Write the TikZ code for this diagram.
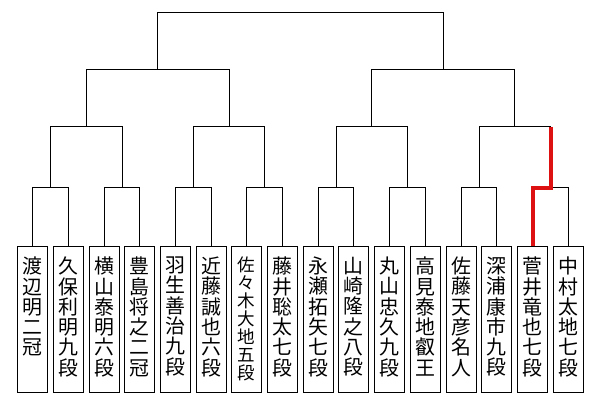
\documentclass[tikz,border=0pt]{standalone}
\usepackage{fontspec}
\newfontfamily\jpfont{Noto Sans CJK JP}
\usetikzlibrary{positioning,calc}
\definecolor{wincolor}{RGB}{221,17,17}
\makeatletter
\def\tatekaki@go#1{\ifx#1\relax\else#1\par\expandafter\tatekaki@go\fi}
\newcommand\tatekaki[2]{\parbox[t][124pt][t]{30pt}{\centering
  \fontsize{\fpeval{#2*0.98}pt}{#2pt}\selectfont\jpfont
  \expandafter\tatekaki@go#1\relax}}
\makeatother
\tikzset{
  player/.style={draw,line width=1pt,anchor=north,minimum width=30pt,
    minimum height=146pt,inner xsep=0pt,inner ysep=11pt},
  bracket/.style={line width=1pt},
  winner/.style={draw=wincolor,line width=4pt}
}

\begin{document}
\begin{tikzpicture}[x=1pt,y=-1pt]
\useasboundingbox (0,0) rectangle (600,400);
\def\ya{187.5}\def\yb{126.5}\def\yc{69.5}\def\yd{12.5}
\foreach \t/\h [count=\i] in {
  渡辺明二冠/20.3, 久保利明九段/20.3, 横山泰明六段/20.3, 豊島将之二冠/20.3,
  羽生善治九段/20.3, 近藤誠也六段/20.3, 佐々木大地五段/17.9, 藤井聡太七段/20.3,
  永瀬拓矢七段/20.3, 山崎隆之八段/20.3, 丸山忠久九段/20.3, 高見泰地叡王/20.3,
  佐藤天彦名人/20.3, 深浦康市九段/20.3, 菅井竜也七段/20.3, 中村太地七段/20.3
}{
  \pgfmathsetmacro\cx{floor(32.7+(\i-1)*35.7)+0.5}
  \node[player] (p\i) at (\cx,245.5) {\tatekaki{\t}{\h}};
}
% 1回戦
\foreach \i in {1,...,8}{
  \pgfmathtruncatemacro\a{2*\i-1}
  \pgfmathtruncatemacro\b{2*\i}
  \path ($(p\a.north)!.5!(p\b.north)$) coordinate (tmp);
  \coordinate (r1-\i) at (tmp |- 0,\ya);
  \draw[bracket] (p\a.north) |- (r1-\i) -| (p\b.north);
}
% 2回戦
\foreach \i in {1,...,4}{
  \pgfmathtruncatemacro\a{2*\i-1}
  \pgfmathtruncatemacro\b{2*\i}
  \path ($(r1-\a)!.5!(r1-\b)$) coordinate (tmp);
  \coordinate (r2-\i) at (tmp |- 0,\yb);
  \draw[bracket] (r1-\a) |- (r2-\i) -| (r1-\b);
}
% 準決勝
\foreach \i in {1,2}{
  \pgfmathtruncatemacro\a{2*\i-1}
  \pgfmathtruncatemacro\b{2*\i}
  \path ($(r2-\a)!.5!(r2-\b)$) coordinate (tmp);
  \coordinate (r3-\i) at (tmp |- 0,\yc);
  \draw[bracket] (r2-\a) |- (r3-\i) -| (r2-\b);
}
% 決勝
\path ($(r3-1)!.5!(r3-2)$) coordinate (tmp);
\coordinate (fin) at (tmp |- 0,\yd);
\draw[bracket] (r3-1) |- (fin) -| (r3-2);
\draw[winner] (p15.north) |- (r1-8) -- (r1-8 |- r2-4);
\end{tikzpicture}
\end{document}
